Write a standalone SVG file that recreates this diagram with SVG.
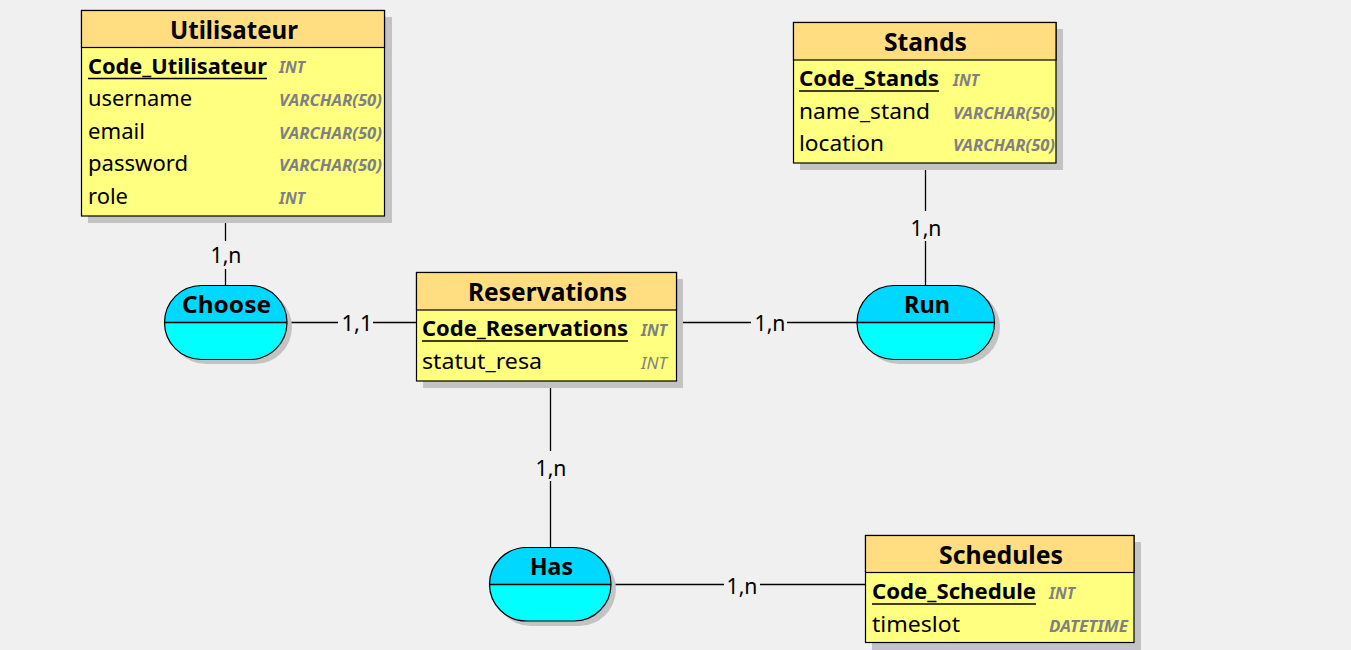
<svg xmlns="http://www.w3.org/2000/svg" width="1351" height="650" viewBox="0 0 1351 650">
<style>
.shadow{fill:#C3C3C3}
.hdr{fill:#FFDD80;stroke:#000;stroke-width:1.2}
.body{fill:#FFFF80;stroke:#000;stroke-width:1.2}
.title{font-family:"Noto Sans","Open Sans",sans-serif;font-weight:bold;font-size:25.5px;fill:#000;text-anchor:middle}
.key{font-family:"Noto Sans","Open Sans",sans-serif;font-weight:bold;font-size:21.5px;fill:#000}
.attr{font-family:"Noto Sans","Open Sans",sans-serif;font-size:22px;fill:#000}
.type{font-family:"Noto Sans","Open Sans",sans-serif;font-weight:bold;font-style:italic;font-size:15.5px;fill:#808080}
.type2{font-family:"Noto Sans","Open Sans",sans-serif;font-style:italic;font-size:15.5px;fill:#808080}
.ul{stroke:#000;stroke-width:1.5}
.atop{fill:#00D8FF}
.abot{fill:#00FFFF}
.aout{fill:none;stroke:#000;stroke-width:1.2}
.aname{font-family:"Noto Sans","Open Sans",sans-serif;font-weight:bold;font-size:24px;fill:#000;text-anchor:middle}
.conn{stroke:#000;stroke-width:1.3;fill:none}
.lblbg{fill:#F0F0F0}
.lbl{font-family:"Noto Sans","Open Sans",sans-serif;font-size:21.5px;fill:#000;text-anchor:middle}
</style>
<rect width="1351" height="650" fill="#F0F0F0"/>

<g id="connectors">
  <line class="conn" x1="225.5" y1="216" x2="225.5" y2="285"/>
  <rect class="lblbg" x="206" y="241" width="40" height="28"/>
  <text class="lbl" x="226" y="262.5" textLength="31" lengthAdjust="spacingAndGlyphs">1,n</text>

  <line class="conn" x1="287" y1="322.5" x2="417" y2="322.5"/>
  <rect class="lblbg" x="338" y="309" width="35" height="26"/>
  <text class="lbl" x="357" y="330.5" textLength="31" lengthAdjust="spacingAndGlyphs">1,1</text>

  <line class="conn" x1="677" y1="322.5" x2="857" y2="322.5"/>
  <rect class="lblbg" x="751" y="309" width="36" height="26"/>
  <text class="lbl" x="770" y="330.5" textLength="31" lengthAdjust="spacingAndGlyphs">1,n</text>

  <line class="conn" x1="925.5" y1="163" x2="925.5" y2="285"/>
  <rect class="lblbg" x="906" y="211" width="40" height="30"/>
  <text class="lbl" x="926" y="235.5" textLength="31" lengthAdjust="spacingAndGlyphs">1,n</text>

  <line class="conn" x1="550.5" y1="381" x2="550.5" y2="547"/>
  <rect class="lblbg" x="531" y="451" width="40" height="30"/>
  <text class="lbl" x="551" y="475.5" textLength="31" lengthAdjust="spacingAndGlyphs">1,n</text>

  <line class="conn" x1="611" y1="584.5" x2="866" y2="584.5"/>
  <rect class="lblbg" x="724" y="571" width="36" height="26"/>
  <text class="lbl" x="742" y="593.5" textLength="31" lengthAdjust="spacingAndGlyphs">1,n</text>
</g>

<g id="Utilisateur">
  <rect class="shadow" x="88" y="17" width="304" height="206"/>
  <rect class="body" x="81.5" y="10.5" width="303" height="205.5"/>
  <rect class="hdr" x="81.5" y="10.5" width="303" height="37"/>
  <text class="title" x="234" y="38.5" textLength="128" lengthAdjust="spacingAndGlyphs">Utilisateur</text>
  <text class="key" x="88" y="74" textLength="179" lengthAdjust="spacingAndGlyphs">Code_Utilisateur</text>
  <line class="ul" x1="88" y1="78.5" x2="267" y2="78.5"/>
  <text class="type" x="279" y="73" textLength="26" lengthAdjust="spacingAndGlyphs">INT</text>
  <text class="attr" x="88" y="106" textLength="104" lengthAdjust="spacingAndGlyphs">username</text>
  <text class="type" x="279" y="106" textLength="103" lengthAdjust="spacingAndGlyphs">VARCHAR(50)</text>
  <text class="attr" x="88" y="138.5" textLength="57" lengthAdjust="spacingAndGlyphs">email</text>
  <text class="type" x="279" y="138.5" textLength="103" lengthAdjust="spacingAndGlyphs">VARCHAR(50)</text>
  <text class="attr" x="88" y="171" textLength="100" lengthAdjust="spacingAndGlyphs">password</text>
  <text class="type" x="279" y="171" textLength="103" lengthAdjust="spacingAndGlyphs">VARCHAR(50)</text>
  <text class="attr" x="88" y="203.5" textLength="40" lengthAdjust="spacingAndGlyphs">role</text>
  <text class="type" x="279" y="203.5" textLength="26" lengthAdjust="spacingAndGlyphs">INT</text>
</g>

<g id="Stands">
  <rect class="shadow" x="800" y="29" width="263" height="141"/>
  <rect class="body" x="793.5" y="22.5" width="262.5" height="140.5"/>
  <rect class="hdr" x="793.5" y="22.5" width="262.5" height="37.5"/>
  <text class="title" x="925.5" y="50.5" textLength="83" lengthAdjust="spacingAndGlyphs">Stands</text>
  <text class="key" x="799" y="86" textLength="140" lengthAdjust="spacingAndGlyphs">Code_Stands</text>
  <line class="ul" x1="799" y1="91" x2="939" y2="91"/>
  <text class="type" x="953" y="86" textLength="26" lengthAdjust="spacingAndGlyphs">INT</text>
  <text class="attr" x="799" y="118.5" textLength="131" lengthAdjust="spacingAndGlyphs">name_stand</text>
  <text class="type" x="953" y="118.5" textLength="102" lengthAdjust="spacingAndGlyphs">VARCHAR(50)</text>
  <text class="attr" x="799" y="151" textLength="85" lengthAdjust="spacingAndGlyphs">location</text>
  <text class="type" x="953" y="151" textLength="102" lengthAdjust="spacingAndGlyphs">VARCHAR(50)</text>
</g>

<g id="Reservations">
  <rect class="shadow" x="423" y="279" width="260" height="109"/>
  <rect class="body" x="416.5" y="272.5" width="260" height="108.5"/>
  <rect class="hdr" x="416.5" y="272.5" width="260" height="37.5"/>
  <text class="title" x="547.5" y="300.5" textLength="159" lengthAdjust="spacingAndGlyphs">Reservations</text>
  <text class="key" x="422" y="336" textLength="206" lengthAdjust="spacingAndGlyphs">Code_Reservations</text>
  <line class="ul" x1="422" y1="341" x2="628" y2="341"/>
  <text class="type" x="641" y="335.5" textLength="26" lengthAdjust="spacingAndGlyphs">INT</text>
  <text class="attr" x="422" y="368.5" textLength="120" lengthAdjust="spacingAndGlyphs">statut_resa</text>
  <text class="type2" x="641" y="368.5" textLength="26" lengthAdjust="spacingAndGlyphs">INT</text>
</g>

<g id="Schedules">
  <rect class="shadow" x="872" y="542" width="269" height="108"/>
  <rect class="body" x="865.5" y="535.5" width="268.5" height="107"/>
  <rect class="hdr" x="865.5" y="535.5" width="268.5" height="37"/>
  <text class="title" x="1001" y="563.5" textLength="124" lengthAdjust="spacingAndGlyphs">Schedules</text>
  <text class="key" x="872" y="599" textLength="164" lengthAdjust="spacingAndGlyphs">Code_Schedule</text>
  <line class="ul" x1="872" y1="604" x2="1036" y2="604"/>
  <text class="type" x="1049" y="598.5" textLength="26" lengthAdjust="spacingAndGlyphs">INT</text>
  <text class="attr" x="872" y="631.5" textLength="88" lengthAdjust="spacingAndGlyphs">timeslot</text>
  <text class="type" x="1049" y="631.5" textLength="79" lengthAdjust="spacingAndGlyphs">DATETIME</text>
</g>

<g id="Choose">
  <rect class="shadow" x="169" y="290" width="123" height="74" rx="37" ry="37"/>
  <rect class="abot" x="164.5" y="285.5" width="122.5" height="74" rx="37" ry="37"/>
  <path class="atop" d="M164.5,322.5 A37,37 0 0 1 201.5,285.5 H250 A37,37 0 0 1 287,322.5 Z"/>
  <rect class="aout" x="164.5" y="285.5" width="122.5" height="74" rx="37" ry="37"/>
  <line class="conn" x1="164.5" y1="322.5" x2="287" y2="322.5"/>
  <text class="aname" x="226.5" y="313" textLength="89" lengthAdjust="spacingAndGlyphs">Choose</text>
</g>

<g id="Run">
  <rect class="shadow" x="862" y="290" width="138" height="74" rx="37" ry="37"/>
  <rect class="abot" x="857" y="285.5" width="137.5" height="74" rx="37" ry="37"/>
  <path class="atop" d="M857,322.5 A37,37 0 0 1 894,285.5 H957.5 A37,37 0 0 1 994.5,322.5 Z"/>
  <rect class="aout" x="857" y="285.5" width="137.5" height="74" rx="37" ry="37"/>
  <line class="conn" x1="857" y1="322.5" x2="994.5" y2="322.5"/>
  <text class="aname" x="927" y="313" textLength="46" lengthAdjust="spacingAndGlyphs">Run</text>
</g>

<g id="Has">
  <rect class="shadow" x="494" y="552" width="122" height="74" rx="37" ry="37"/>
  <rect class="abot" x="489.5" y="547.5" width="121.5" height="73.5" rx="37" ry="37"/>
  <path class="atop" d="M489.5,584.5 A37,37 0 0 1 526.5,547.5 H574 A37,37 0 0 1 611,584.5 Z"/>
  <rect class="aout" x="489.5" y="547.5" width="121.5" height="73.5" rx="37" ry="37"/>
  <line class="conn" x1="489.5" y1="584.5" x2="611" y2="584.5"/>
  <text class="aname" x="551.5" y="575" textLength="43" lengthAdjust="spacingAndGlyphs">Has</text>
</g>
</svg>
